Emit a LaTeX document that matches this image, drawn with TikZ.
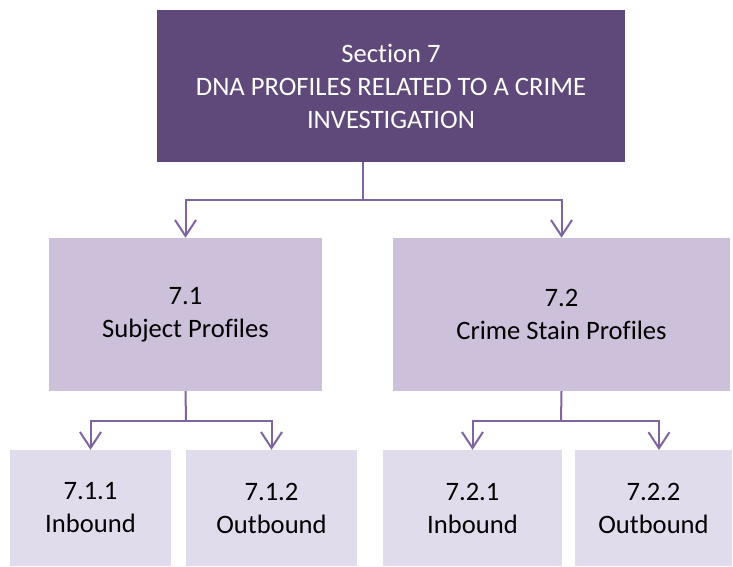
\documentclass[tikz,border=0pt]{standalone}
\usepackage{fontspec}
\setmainfont[Ligatures=NoCommon]{Carlito}
\usetikzlibrary{arrows.meta}
\definecolor{darkplum}{HTML}{5F497A}
\definecolor{midlilac}{HTML}{CCC0DA}
\definecolor{palelilac}{HTML}{E1DCEB}
\definecolor{linkpurple}{HTML}{8064A2}

\begin{document}
\begin{tikzpicture}[x=1pt,y=-1pt,
  box/.style={inner sep=0pt,align=center,font=\fontsize{26.6}{33}\selectfont},
  link/.style={draw=linkpurple,line width=2pt},
  tip/.style={-{Straight Barb[length=16pt,width=21pt]}}]
  \useasboundingbox (0,0) rectangle (733,566);
  \node[box,fill=darkplum,text=white,minimum width=468pt,minimum height=152pt] (sec) at (391,86) {Section 7\\DNA PROFILES RELATED TO A CRIME\\INVESTIGATION};
  \node[box,fill=midlilac,minimum width=273pt,minimum height=153pt] (subj) at (185.5,314.5) {7.1\\Subject Profiles};
  \node[box,fill=midlilac,minimum width=337pt,minimum height=153pt] (stain) at (561.5,314.5) {7.2\\Crime Stain Profiles};
  \node[box,fill=palelilac,minimum width=161pt,minimum height=116pt] (in1) at (90.5,508) {7.1.1\\Inbound};
  \node[box,fill=palelilac,minimum width=171pt,minimum height=116pt] (out1) at (271.5,508) {7.1.2\\Outbound};
  \node[box,fill=palelilac,minimum width=179pt,minimum height=116pt] (in2) at (472.5,508) {7.2.1\\Inbound};
  \node[box,fill=palelilac,minimum width=157pt,minimum height=116pt] (out2) at (653.5,508) {7.2.2\\Outbound};
  \coordinate (split) at (363,200);
  \coordinate (splitA) at (186,421);
  \coordinate (splitB) at (561,421);
  \coordinate (endB) at (659,450);
  \draw[link] (sec.south -| split) -- (split);
  \draw[link,tip] (split) -| (subj.north);
  \draw[link,tip] (split) -| (stain.north);
  \draw[link] (subj.south) -- (splitA);
  \draw[link,tip] (splitA) -| (in1.north);
  \draw[link,tip] (splitA) -| (out1.north);
  \draw[link] (stain.south) -- (splitB);
  \draw[link,tip] (splitB) -| (in2.north);
  \draw[link,tip] (splitB) -| (endB);
\end{tikzpicture}
\end{document}
